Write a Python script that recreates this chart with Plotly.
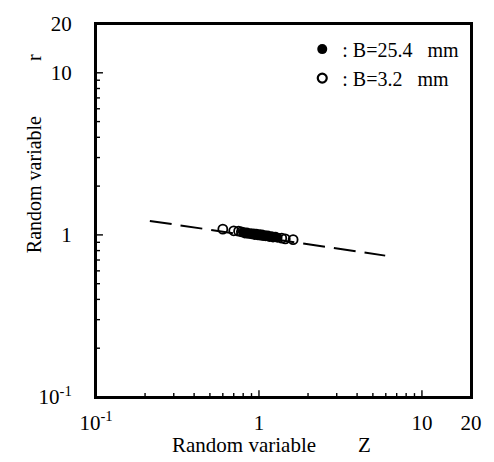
import plotly.graph_objects as go

# ---- data ----
filled_z = [0.80, 0.82, 0.84, 0.86, 0.88, 0.90, 0.92, 0.94, 0.96, 0.98, 1.00,
            1.02, 1.04, 1.06, 1.08, 1.10, 1.13, 1.16, 1.19, 1.22, 1.26, 1.30]
filled_r = [1.04, 1.02, 1.035, 1.015, 1.025, 1.01, 1.02, 1.00, 1.015, 0.995, 1.01,
            0.99, 1.005, 0.985, 0.995, 0.98, 0.99, 0.97, 0.98, 0.965, 0.975, 0.96]
open_z = [0.60, 0.70, 0.75, 0.78, 1.38, 1.45, 1.62]
open_r = [1.085, 1.06, 1.055, 1.045, 0.955, 0.945, 0.935]
line_z = [0.214, 5.95]
line_r = [1.22, 0.745]

x_tickvals = [0.1, 1, 10, 20]
x_ticktext = ["10<sup>-1</sup>", "1", "10", "20"]
y_tickvals = [0.1, 1, 10, 20]
y_ticktext = ["10<sup>-1</sup>", "1", "10", "20"]
major_inner = [1, 10]
minor_vals = [0.2, 0.3, 0.4, 0.5, 0.6, 0.7, 0.8, 0.9, 2, 3, 4, 5, 6, 7, 8, 9]

NB = "\u00a0"
FONT = "Liberation Serif"
LOGRANGE = [-1, 1.30103]
AX_MIN, AX_MAX = 10 ** LOGRANGE[0], 10 ** LOGRANGE[1]
PLOT_W, PLOT_H = 377, 383
DECADES = LOGRANGE[1] - LOGRANGE[0]
PPD_X, PPD_Y = PLOT_W / DECADES, PLOT_H / DECADES  # pixels per decade

fig = go.Figure()

# frame around the plot area, following the axis ranges
fig.add_trace(go.Scatter(
    x=[AX_MIN, AX_MAX, AX_MAX, AX_MIN, AX_MIN], y=[AX_MIN, AX_MIN, AX_MAX, AX_MAX, AX_MIN],
    mode="lines", line=dict(color="black", width=2), cliponaxis=False,
    showlegend=False, hoverinfo="skip"))

# inside ticks on bottom and left edges (major 7px, minor 4px)
tick_x, tick_y = [], []
for vals, length in ((major_inner, 7), (minor_vals, 4)):
    for v in vals:
        tick_x += [v, v, None]
        tick_y += [AX_MIN, AX_MIN * 10 ** (length / PPD_Y), None]
        tick_x += [AX_MIN, AX_MIN * 10 ** (length / PPD_X), None]
        tick_y += [v, v, None]
fig.add_trace(go.Scatter(
    x=tick_x, y=tick_y, mode="lines", line=dict(color="black", width=1.4),
    cliponaxis=False, showlegend=False, hoverinfo="skip"))

fig.add_trace(go.Scatter(
    x=line_z, y=line_r, mode="lines", showlegend=False,
    line=dict(color="black", width=2, dash="22px,9px")))
fig.add_trace(go.Scatter(
    x=open_z, y=open_r, mode="markers", name="open",
    marker=dict(symbol="circle-open", size=9, color="black", line=dict(width=1.8)),
    showlegend=False))
fig.add_trace(go.Scatter(
    x=filled_z, y=filled_r, mode="markers", name=":" + NB + "B=25.4" + NB * 3 + "mm",
    marker=dict(symbol="circle", size=10, color="black"), showlegend=True))
fig.add_trace(go.Scatter(
    x=[None], y=[None], mode="markers", name=":" + NB + "B=3.2" + NB * 3 + "mm",
    marker=dict(symbol="circle-open", size=9, color="black", line=dict(width=2.2)),
    showlegend=True))

tickfont = dict(family=FONT, size=21, color="black")
common = dict(type="log", range=LOGRANGE, showgrid=False, zeroline=False,
              showline=True, linecolor="black", linewidth=2, mirror=True,
              ticks="", tickmode="array", tickfont=tickfont)

fig.update_layout(
    xaxis=dict(**common, tickvals=x_tickvals, ticktext=x_ticktext, ticklabelstandoff=6),
    yaxis=dict(**common, tickvals=y_tickvals, ticktext=y_ticktext, ticklabelstandoff=18),
)

fig.add_annotation(text="Random variable" + NB * 8 + "Z", xref="paper", yref="paper",
                   x=0.469, y=-0.128, xanchor="center", yanchor="middle",
                   showarrow=False, font=dict(family=FONT, size=21, color="black"))
fig.add_annotation(text="Random variable" + NB * 11 + "r", xref="paper", yref="paper",
                   x=-0.167, y=0.652, xanchor="center", yanchor="middle", textangle=-90,
                   showarrow=False, font=dict(family=FONT, size=20, color="black"))

fig.update_layout(
    width=494, height=462,
    margin=dict(l=96, r=21, t=14, b=65),
    paper_bgcolor="white", plot_bgcolor="white",
    font=dict(family=FONT, size=19, color="black"),
    legend=dict(x=0.55, y=0.985, xanchor="left", yanchor="top",
                bgcolor="rgba(0,0,0,0)", tracegroupgap=0, itemwidth=30,
                font=dict(family=FONT, size=20, color="black")),
)

# remove the browser's default 8px page margin so the figure fills the window
fig.write_html("out.html", config={"displayModeBar": False},
               post_script="document.body.style.margin='0';")
